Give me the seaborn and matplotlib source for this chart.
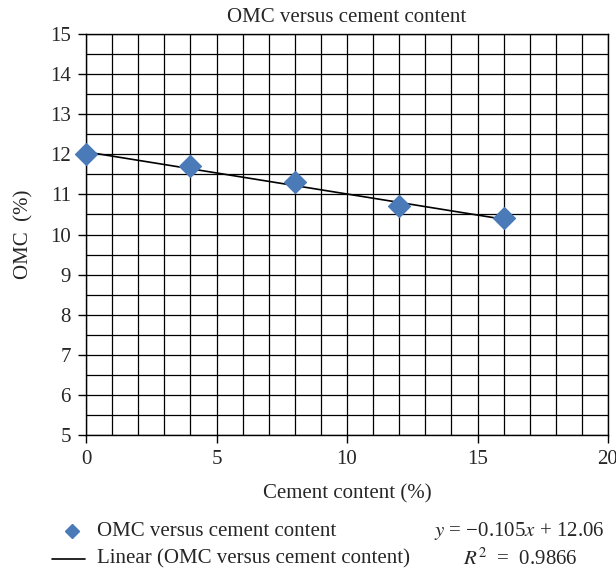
import matplotlib
matplotlib.use("Agg")
import matplotlib.pyplot as plt
import seaborn as sns
import numpy as np
import pandas as pd
from matplotlib.lines import Line2D

cement = [0, 4, 8, 12, 16]
omc = [12.0, 11.7, 11.3, 10.7, 10.4]
series_label = "OMC versus cement content"
trend_label = "Linear (OMC versus cement content)"
eq_text = "$y$ = \u22120.105$x$ + 12.06"
r2_text = "$R^2$  =  0.9866"

sns.set_theme(style="white")
plt.rcParams['font.family'] = ['Liberation Serif', 'DejaVu Serif']
plt.rcParams['mathtext.fontset'] = 'stix'

FS = 15
W, H = 616, 573
df = pd.DataFrame({"cement": cement, "omc": omc})

fig = plt.figure(figsize=(6.16, 5.73), dpi=100)
ax = fig.add_axes([86 / W, 1 - 435 / H, (608 - 86) / W, (435 - 34) / H])

ax.set_xlim(0, 20)
ax.set_ylim(5, 15)
ax.set_xticks(np.arange(0, 21, 1), minor=True)
ax.set_yticks(np.arange(5, 15.01, 0.5), minor=True)
ax.set_xticks(np.arange(0, 21, 5))
ax.set_yticks(np.arange(5, 16, 1))
ax.grid(True, which='both', color='black', linewidth=0.9)
ax.set_axisbelow(True)

sns.regplot(data=df, x="cement", y="omc", ax=ax, scatter=False, ci=None,
            truncate=True, line_kws=dict(color='black', linewidth=1.2))
sns.scatterplot(data=df, x="cement", y="omc", ax=ax, marker='D', s=125,
                color='#4a7ab8', edgecolor='#4a7ab8', zorder=5, legend=False,
                clip_on=False)

for s in ax.spines.values():
    s.set_color('black')
    s.set_linewidth(1.0)
ax.tick_params(axis='both', which='major', direction='out', length=6, width=1,
               color='black', labelsize=FS, bottom=True, left=True, pad=5)
ax.tick_params(axis='both', which='minor', length=0)

ax.set_title("OMC versus cement content", fontsize=FS, pad=8.5)
ax.set_xlabel("Cement content (%)", fontsize=FS, labelpad=11)
ax.set_ylabel("OMC  (%)", fontsize=FS, labelpad=12)

# legend entries below the plot
fig.add_artist(Line2D([72 / W], [1 - 531 / H], marker='D', color='#4a7ab8',
                      linestyle='None', markersize=7.5))
fig.add_artist(Line2D([52 / W, 85 / W], [1 - 559 / H, 1 - 559 / H],
                      color='black', linewidth=1.2))
fig.text(97 / W, 1 - 531 / H, series_label, ha='left', va='center', fontsize=FS)
fig.text(97 / W, 1 - 559 / H, trend_label, ha='left', va='center', fontsize=FS)

fig.text(604 / W, 1 - 531 / H, eq_text, ha='right', va='center', fontsize=FS)
fig.text(463 / W, 1 - 559 / H, r2_text, ha='left', va='center', fontsize=FS)

fig.savefig("out.png", dpi=100)
